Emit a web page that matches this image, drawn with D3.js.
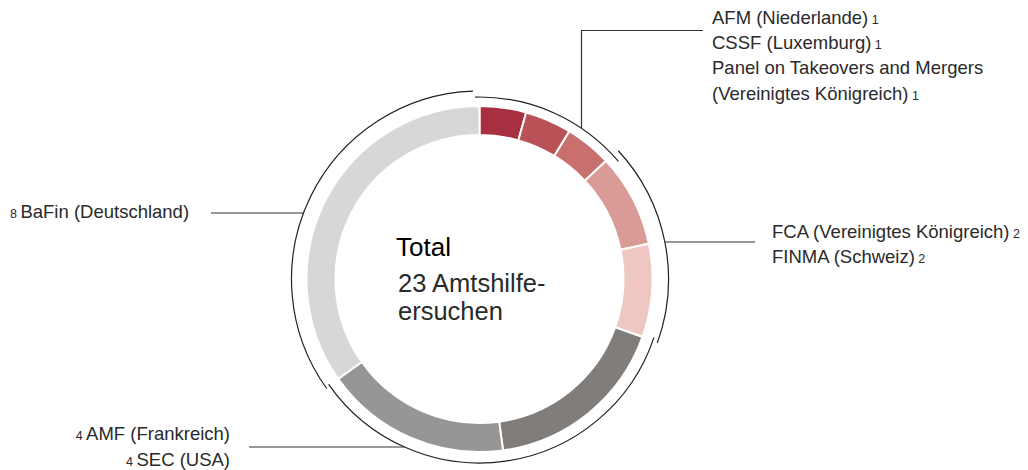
<!DOCTYPE html>
<html>
<head>
<meta charset="utf-8">
<script src="https://cdn.jsdelivr.net/npm/d3@7"></script>
<style>
  body { margin: 0; background: #fff; }
  text { font-family: "Liberation Sans", Arial, sans-serif; fill: #2a2a2a; }
</style>
</head>
<body>
<div id="chart"></div>
<script>
// data: Amtshilfeersuchen nach Behörde, clockwise from 12 o'clock
const authorities = ["AFM (Niederlande)", "CSSF (Luxemburg)", "Panel on Takeovers and Mergers (Vereinigtes Königreich)",
    "FCA (Vereinigtes Königreich)", "FINMA (Schweiz)", "AMF (Frankreich)", "SEC (USA)", "BaFin (Deutschland)"];
const requests = [1, 1, 1, 2, 2, 4, 4, 8];
const groupOf = [0, 0, 0, 1, 1, 2, 2, 3];
const sliceColors = ["#a82f3f", "#b85256", "#c9706f", "#da9b97", "#efc7c2", "#817d7a", "#979695", "#d7d7d6"];
const totalTitle = "Total";
const totalText = ["23 Amtshilfe-", "ersuchen"];

const width = 1028, height = 470;
const cx = 479.5, cy = 279;
const outerR = 173, innerR = 144;
// bracket style per group: radius and small angular overhang (degrees)
const bracketR = [182, 189, 184, 188];
const padStart = [-1.4, 0.3, -1.0, -0.5];
const padEnd = [2.8, 0.2, 0.3, -2.0];
const deg = Math.PI / 180;

const svg = d3.select("#chart")
    .append("svg")
    .attr("width", width)
    .attr("height", height);

const g = svg.append("g")
    .attr("transform", `translate(${cx},${cy})`);

const pie = d3.pie().sort(null).value(d => d)(requests);

const arc = d3.arc().innerRadius(innerR).outerRadius(outerR);

// ring
g.selectAll("path.slice")
    .data(pie)
    .join("path")
    .attr("class", "slice")
    .attr("d", arc)
    .attr("fill", (d, i) => sliceColors[i])
    .attr("stroke", "#fff")
    .attr("stroke-width", 2);

// thin outer brackets, one per label group
const groupIds = [0, 1, 2, 3];
const groupSpans = groupIds.map(k => {
    const members = pie.filter((d, i) => groupOf[i] === k);
    return {
        start: d3.min(members, d => d.startAngle) + padStart[k] * deg,
        end: d3.max(members, d => d.endAngle) + padEnd[k] * deg,
        r: bracketR[k]
    };
});

g.selectAll("path.bracket")
    .data(groupSpans)
    .join("path")
    .attr("class", "bracket")
    .attr("d", d => d3.arc().innerRadius(d.r).outerRadius(d.r).startAngle(d.start).endAngle(d.end)())
    .attr("fill", "none")
    .attr("stroke", "#222")
    .attr("stroke-width", 1.2);

// leader lines
function arcX(r, y, side) { return side * Math.sqrt(r * r - y * y); }
function arcY(r, x, side) { return side * Math.sqrt(r * r - x * x); }

const lead = svg.append("g")
    .attr("stroke", "#333")
    .attr("stroke-width", 1.2)
    .attr("fill", "none");

const v0x = 581.5 - cx;
lead.append("path")
    .attr("d", `M${cx + v0x},${cy + arcY(bracketR[0], v0x, -1)} V30.5 H703`);
const y1 = 242 - cy;
lead.append("path")
    .attr("d", `M${cx + arcX(bracketR[1], y1, 1)},242 H755`);
const y3 = 213 - cy;
lead.append("path")
    .attr("d", `M211,213 H${cx + arcX(bracketR[3], y3, -1)}`);
const y2 = 447 - cy;
lead.append("path")
    .attr("d", `M249,447 H${cx + arcX(bracketR[2], y2, -1)}`);

// labels
const fs = 18.5, small = 12.5;

function rightLabel(x, y, name, n) {
    const t = svg.append("text").attr("x", x).attr("y", y).attr("font-size", fs);
    t.append("tspan").text(name);
    if (n !== null) t.append("tspan").attr("font-size", small).text(" " + n);
}
function leftLabel(xr, y, name, n) {
    const t = svg.append("text").attr("x", xr).attr("y", y).attr("font-size", fs).attr("text-anchor", "end");
    t.append("tspan").attr("font-size", small).text(n + " ");
    t.append("tspan").text(name);
}

rightLabel(712, 24, authorities[0], requests[0]);
rightLabel(712, 49, authorities[1], requests[1]);
rightLabel(712, 74, authorities[2].split(" (")[0], null);
rightLabel(712, 100, "(" + authorities[2].split(" (")[1], requests[2]);

rightLabel(772, 238, authorities[3], requests[3]);
rightLabel(772, 263, authorities[4], requests[4]);

leftLabel(230, 440, authorities[5], requests[5]);
leftLabel(230, 466, authorities[6], requests[6]);

svg.append("text")
    .attr("x", 10).attr("y", 218).attr("font-size", fs)
    .call(t => {
        t.append("tspan").attr("font-size", small).text(requests[7] + " ");
        t.append("tspan").text(authorities[7]);
    });

// centre text
svg.append("text")
    .attr("x", 396).attr("y", 256)
    .attr("font-size", 26)
    .style("fill", "#000")
    .text(totalTitle);

svg.selectAll("text.centre")
    .data(totalText)
    .join("text")
    .attr("class", "centre")
    .attr("x", 398)
    .attr("y", (d, i) => 292 + i * 28)
    .attr("font-size", 25.5)
    .text(d => d);
</script>
</body>
</html>
